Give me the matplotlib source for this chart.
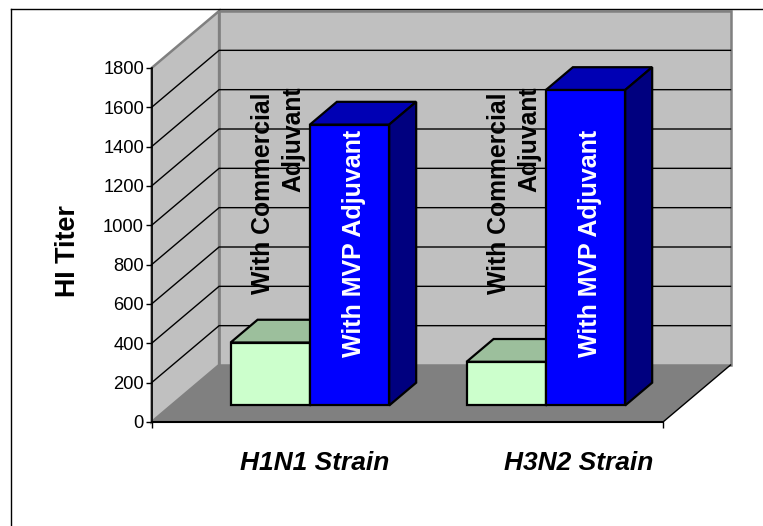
import matplotlib
matplotlib.use('Agg')
import matplotlib.pyplot as plt

plt.rcParams['font.family'] = ['Liberation Sans', 'DejaVu Sans']

strains = ["H1N1 Strain", "H3N2 Strain"]
commercial = [320, 222]
mvp = [1428, 1604]
yticks = [0, 200, 400, 600, 800, 1000, 1200, 1400, 1600, 1800]
commercial_label = "With Commercial"
commercial_label2 = "Adjuvant"
mvp_label = "With MVP Adjuvant"

W, H = 763, 526
# front plane of the 3d box in pixels
left, right, bottom, top = 151.6, 663.0, 422.0, 68.0
cat_px = 236.0
first_center = 290.3
depth_x_px, depth_y_px = 67.5, 57.0
bar_px = 79.3
# how far into the box the bars start and end (0 front, 1 back)
d0, d1 = 0.29, 0.69

fig = plt.figure(figsize=(W / 100, H / 100), dpi=100)
ax = fig.add_axes([left / W, 1 - bottom / H, (right - left) / W, (bottom - top) / H])
ax.set_xlim((left - first_center) / cat_px, (right - first_center) / cat_px)
ax.set_ylim(0, 1800)
ax.set_facecolor('none')
for s in ax.spines.values():
    s.set_visible(False)

# depth offsets in data units
px_y = 1800 / (bottom - top)
dx = depth_x_px / cat_px
dy = depth_y_px * px_y
x0, x1 = ax.get_xlim()
ymax = yticks[-1]


def proj(x, y, d):
    return x + d * dx, y + d * dy


def poly(pts, **kw):
    ax.fill([p[0] for p in pts], [p[1] for p in pts], clip_on=False, **kw)


def bar3d(xl, xr, val, front, topc, side, z):
    a = proj(xl, 0, d0)
    b = proj(xr, 0, d0)
    c = proj(xr, val, d0)
    e = proj(xl, val, d0)
    f = proj(xl, val, d1)
    g = proj(xr, val, d1)
    h = proj(xr, 0, d1)
    style = dict(edgecolor='black', linewidth=1.6, joinstyle='miter', zorder=z)
    poly([e, f, g, c], facecolor=topc, **style)
    poly([b, h, g, c], facecolor=side, **style)
    poly([a, b, c, e], facecolor=front, **style)


def label(i, px, py, s, size, color='black', **kw):
    # px, py are pixel places for the first group, the second is one category over
    ax.text(i + (px - first_center) / cat_px, (bottom - py) * px_y, s, rotation=90,
            rotation_mode='anchor', ha='center', va='baseline', fontsize=size,
            fontweight='bold', color=color, clip_on=False, zorder=9, **kw)


# walls and floor
poly([proj(x0, 0, 1), proj(x1, 0, 1), proj(x1, ymax, 1), proj(x0, ymax, 1)],
     facecolor='#C0C0C0', edgecolor='#808080', linewidth=1.8, zorder=1)
poly([proj(x0, 0, 0), proj(x0, 0, 1), proj(x0, ymax, 1), proj(x0, ymax, 0)],
     facecolor='#C0C0C0', edgecolor='#808080', linewidth=1.8, zorder=1)
poly([proj(x0, 0, 0), proj(x1, 0, 0), proj(x1, 0, 1), proj(x0, 0, 1)],
     facecolor='#808080', edgecolor='none', zorder=1.5)

# gridlines run along side wall then back wall
for t in yticks[1:-1]:
    p0, p1, p2 = proj(x0, t, 0), proj(x0, t, 1), proj(x1, t, 1)
    ax.plot([p0[0], p1[0], p2[0]], [p0[1], p1[1], p2[1]], color='black', lw=1,
            clip_on=False, zorder=2, solid_joinstyle='miter')

# axis lines
ax.plot([x0, x0], [0, ymax], color='black', lw=1.2, clip_on=False, zorder=3)
ax.plot([x0, x1], [0, 0], color='black', lw=1.5, clip_on=False, zorder=3)
p0, p1 = proj(x1, 0, 0), proj(x1, 0, 1)
ax.plot([p0[0], p1[0]], [p0[1], p1[1]], color='black', lw=1, clip_on=False, zorder=3)

ax.set_yticks(yticks)
ax.set_xticks([x0, x1])
ax.set_xticklabels([])
ax.tick_params(axis='y', labelsize=13.2, length=4, width=1, pad=1.5, color='black')
ax.tick_params(axis='x', length=4.5, width=1, color='black')
ax.get_xticklines()[1].set_color('#808080')
ax.set_ylabel("HI Titer", fontsize=19.4, fontweight='bold', labelpad=0)
ax.yaxis.set_label_coords((81 - left) / (right - left), (bottom - 251) / (bottom - top))

bw = bar_px / cat_px
strain_x = [315, 579]
for i in range(len(strains)):
    bar3d(i - bw, i, commercial[i], '#CCFFCC', '#9CBF9C', '#7F9F7F', 4 + i)
    bar3d(i, i + bw, mvp[i], '#0000FF', '#0000B4', '#00007F', 4.5 + i)

    label(i, 270.5, 193.5, commercial_label, 17.8)
    label(i, 300, 139, commercial_label2, 17.8)
    label(i, 361.5, 243, mvp_label, 18, color='white')
    ax.text((strain_x[i] - first_center) / cat_px, (bottom - 463) * px_y, strains[i],
            fontsize=19, fontweight='bold', fontstyle='italic', ha='center', va='center',
            clip_on=False, zorder=9)

# chart area border, only left and top show
fig.add_artist(plt.Line2D([11 / W, 11 / W], [0, 1 - 9.3 / H], color='black', lw=1))
fig.add_artist(plt.Line2D([11 / W, 1], [1 - 9.3 / H, 1 - 9.3 / H], color='black', lw=1))

fig.savefig('out.png', dpi=100)
